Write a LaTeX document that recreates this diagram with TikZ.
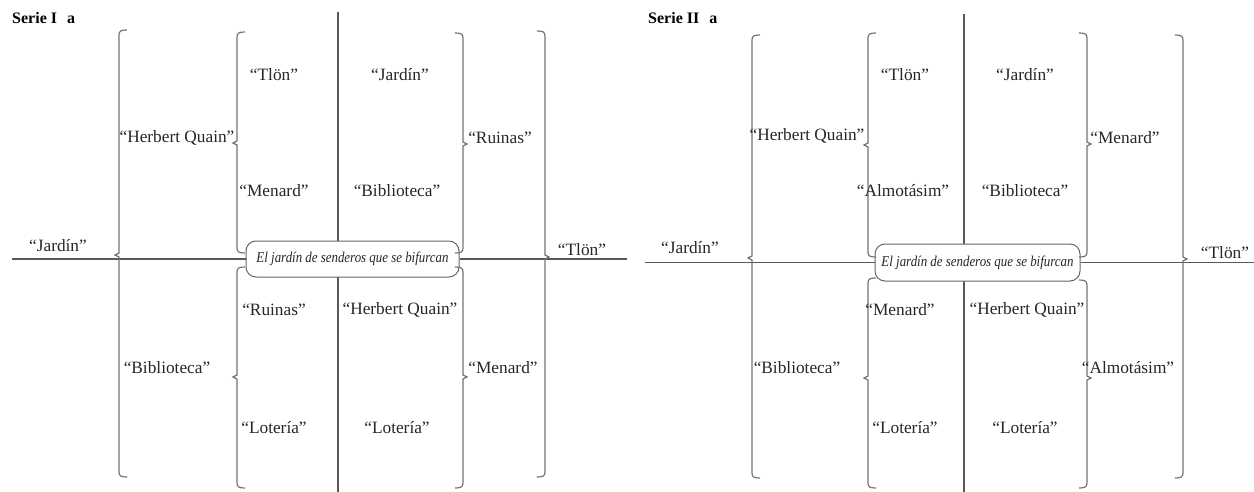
\documentclass[tikz,border=0pt]{standalone}
\usepackage{fontspec}
\setmainfont{Liberation Serif}
\begin{document}
\begin{tikzpicture}[x=1pt,y=-1pt,
  lbl/.style={font=\fontsize{17.3}{20}\selectfont, text=black!85, inner sep=0pt},
  ttl/.style={font=\fontsize{16}{19}\selectfont\bfseries, anchor=west, inner sep=0pt},
  br/.style={draw=black!55, line width=1.2pt},
  axis/.style={draw=black!65, line width=1.2pt},
  center/.style={draw=black!60, line width=1pt, fill=white, rounded corners=10pt,
    inner sep=0pt, text=black!85}]
\useasboundingbox (0,0) rectangle (1254,492);
\newcommand\cortext{\scalebox{0.86}[1]{\fontsize{15}{17}\selectfont\itshape El jardín de senderos que se bifurcan}}
% brace macros: x, ytop, ymid, ybot
\newcommand\brL[4]{%
  \draw[br] (#1+8,#2) .. controls (#1+2,#2) and (#1,#2+1) .. (#1,#2+5) -- (#1,#3-2) -- (#1-4,#3) -- (#1,#3+2) -- (#1,#4-5) .. controls (#1,#4-1) and (#1+2,#4) .. (#1+8,#4);}
\newcommand\brR[4]{%
  \draw[br] (#1-8,#2) .. controls (#1-2,#2) and (#1,#2+1) .. (#1,#2+5) -- (#1,#3-2) -- (#1+4,#3) -- (#1,#3+2) -- (#1,#4-5) .. controls (#1,#4-1) and (#1-2,#4) .. (#1-8,#4);}

% ===== Serie I =====
\node[ttl] (t1) at (12,18) {Serie I\hspace{10pt}a};
\coordinate (v1t) at (338,12);
\coordinate (v1b) at (338,492);
\draw[axis] (v1t) -- (v1b);
\node[center, minimum width=213pt, minimum height=36pt] (c1) at (352.5,259) {\cortext};
\coordinate (h1l) at (12,259);
\coordinate (h1r) at (627,259);
\draw[axis] (h1l) -- (c1.west);
\draw[axis] (c1.east) -- (h1r);
\brL{119}{30}{255}{477}
\brR{545}{31}{257}{477}
\brL{237}{32}{143}{253}
\brL{237}{267}{377}{488}
\brR{463}{33}{144}{253}
\brR{463}{267}{377}{488}
\node[lbl] (a1) at (58,246) {“Jardín”};
\node[lbl] (a2) at (582,250) {“Tlön”};
\node[lbl] (a3) at (177,138) {“Herbert Quain”};
\node[lbl] (a4) at (167,368) {“Biblioteca”};
\node[lbl] (a5) at (274,75) {“Tlön”};
\node[lbl] (a6) at (400,75) {“Jardín”};
\node[lbl] (a7) at (274,191) {“Menard”};
\node[lbl] (a8) at (397,191) {“Biblioteca”};
\node[lbl] (a9) at (274,310) {“Ruinas”};
\node[lbl] (a10) at (400,310) {“Herbert Quain”};
\node[lbl] (a11) at (274,428) {“Lotería”};
\node[lbl] (a12) at (397,428) {“Lotería”};
\node[lbl] (a13) at (500,138) {“Ruinas”};
\node[lbl] (a14) at (503,368) {“Menard”};

% ===== Serie II =====
\node[ttl] (t2) at (648,18) {Serie II\hspace{10pt}a};
\coordinate (v2t) at (964,14);
\coordinate (v2b) at (964,492);
\draw[axis] (v2t) -- (v2b);
\node[center, minimum width=205pt, minimum height=37pt] (c2) at (977.5,262.5) {\cortext};
\coordinate (h2l) at (645,262.5);
\coordinate (h2r) at (1254,262.5);
\draw[axis] (h2l) -- (c2.west);
\draw[axis] (c2.east) -- (h2r);
\brL{752}{35}{258}{478}
\brR{1183}{35}{259}{478}
\brL{868}{33}{145}{257}
\brL{868}{278}{378}{488}
\brR{1087}{33}{144}{257}
\brR{1087}{280}{378}{488}
\node[lbl] (b1) at (690,248) {“Jardín”};
\node[lbl] (b2) at (1225,253) {“Tlön”};
\node[lbl] (b3) at (807,136) {“Herbert Quain”};
\node[lbl] (b4) at (797,368) {“Biblioteca”};
\node[lbl] (b5) at (905,75) {“Tlön”};
\node[lbl] (b6) at (1025,75) {“Jardín”};
\node[lbl] (b7) at (903,191) {“Almotásim”};
\node[lbl] (b8) at (1025,191) {“Biblioteca”};
\node[lbl] (b9) at (900,310) {“Menard”};
\node[lbl] (b10) at (1027,310) {“Herbert Quain”};
\node[lbl] (b11) at (905,428) {“Lotería”};
\node[lbl] (b12) at (1025,428) {“Lotería”};
\node[lbl] (b13) at (1125,138) {“Menard”};
\node[lbl] (b14) at (1128,368) {“Almotásim”};
\end{tikzpicture}
\end{document}
